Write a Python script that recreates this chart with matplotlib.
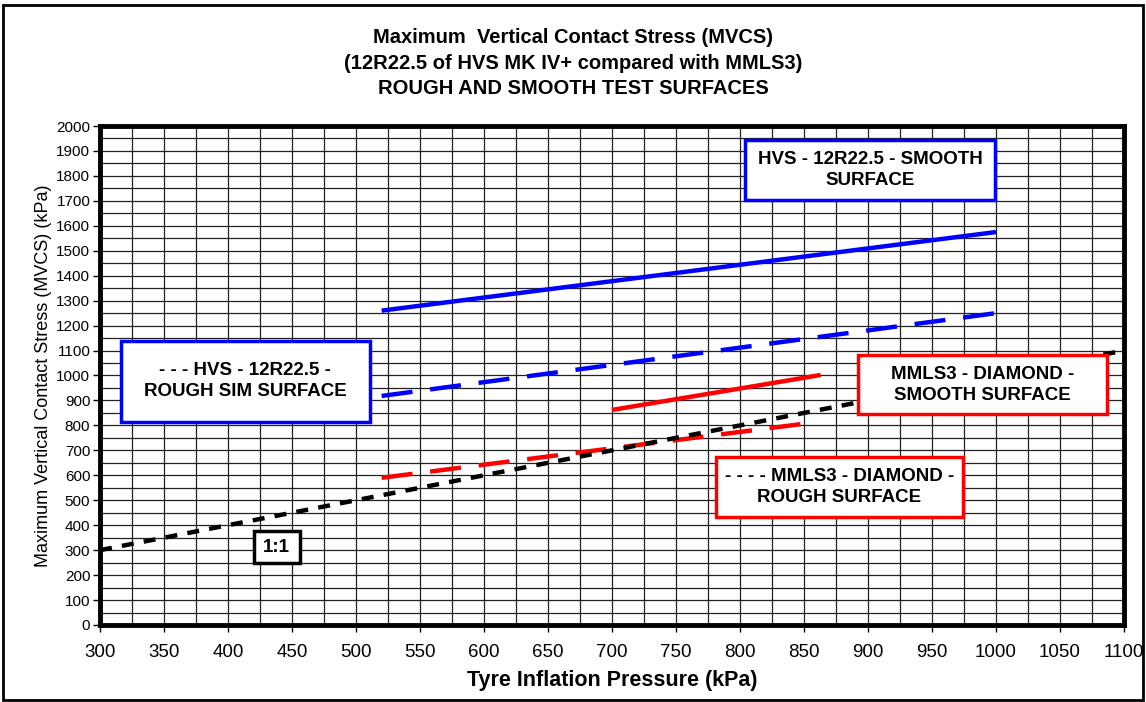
import numpy as np
import matplotlib.pyplot as plt
from matplotlib.patches import Rectangle

plt.rcParams['font.family'] = ['Liberation Sans', 'DejaVu Sans']

# Tyre inflation pressure (kPa) and MVCS (kPa) for each series
hvs_smooth_x = [520, 1000]
hvs_smooth_y = [1260, 1575]
hvs_rough_x = [520, 1000]
hvs_rough_y = [918, 1250]
mmls_smooth_x = [700, 863]
mmls_smooth_y = [862, 1002]
mmls_rough_x = [520, 855]
mmls_rough_y = [590, 810]
equal_x = [300, 1100]
equal_y = [300, 1100]

x_ticks = list(range(300, 1101, 50))
y_ticks = list(range(0, 2001, 100))

fig = plt.figure(figsize=(11.46, 7.02), dpi=100)
ax = fig.add_axes([0.0873, 0.1097, 0.8935, 0.7108])

# grid: every 25 kPa on x, every 50 kPa on y
for gx in np.arange(300, 1101, 25):
    ax.axvline(gx, color='#222222', lw=0.9, zorder=1)
for gy in np.arange(0, 2001, 50):
    ax.axhline(gy, color='#222222', lw=0.9, zorder=1)

ax.plot(hvs_smooth_x, hvs_smooth_y, color='#0000ff', lw=3.2, solid_capstyle='butt', zorder=3)
ax.plot(hvs_rough_x, hvs_rough_y, color='#0000ff', lw=3.2, dashes=(7, 4), zorder=3)
ax.plot(mmls_smooth_x, mmls_smooth_y, color='#ff0000', lw=3.2, solid_capstyle='butt', zorder=3)
ax.plot(mmls_rough_x, mmls_rough_y, color='#ff0000', lw=3.2, dashes=(7, 4), zorder=3)
ax.plot(equal_x, equal_y, color='black', lw=3.2, dashes=(2.7, 2.3), zorder=3)

ax.set_xlim(300, 1100)
ax.set_ylim(0, 2000)
ax.set_xticks(x_ticks)
ax.set_yticks(y_ticks)
ax.tick_params(axis='x', labelsize=13.5, length=5, width=1, pad=9)
ax.tick_params(axis='y', labelsize=11, length=5, width=1, pad=2)
for s in ax.spines.values():
    s.set_linewidth(3.5)

ax.set_xlabel('Tyre Inflation Pressure (kPa)', fontsize=15.5, fontweight='bold', labelpad=6)
ax.set_ylabel('Maximum Vertical Contact Stress (MVCS) (kPa)', fontsize=13, labelpad=3)

fig.text(0.5, 0.91, 'Maximum  Vertical Contact Stress (MVCS)\n(12R22.5 of HVS MK IV+ compared with MMLS3)\nROUGH AND SMOOTH TEST SURFACES',
         ha='center', va='center', fontsize=14.5, fontweight='bold', linespacing=1.45)


def label_box(x0, y0, x1, y1, text, color, lw=2.5):
    ax.add_patch(Rectangle((x0, y0), x1 - x0, y1 - y0, facecolor='white',
                           edgecolor=color, lw=lw, zorder=5))
    ax.text((x0 + x1) / 2, (y0 + y1) / 2, text, ha='center', va='center',
            fontsize=13.5, fontweight='bold', zorder=6, linespacing=1.3)


label_box(804, 1703, 999, 1944, 'HVS - 12R22.5 - SMOOTH\nSURFACE', '#0000ff')
label_box(316, 814, 511, 1140, '- - - HVS - 12R22.5 -\nROUGH SIM SURFACE', '#0000ff')
label_box(892, 845, 1087, 1082, 'MMLS3 - DIAMOND -\nSMOOTH SURFACE', '#ff0000')
label_box(781, 433, 974, 673, '- - - - MMLS3 - DIAMOND -\nROUGH SURFACE', '#ff0000')
label_box(420, 248, 456, 377, '1:1', 'black')

# outer frame of the chart area
fig.patches.append(Rectangle((0.003, 0.003), 0.994, 0.99, transform=fig.transFigure,
                             fill=False, edgecolor='black', lw=2))

fig.savefig('out.png', dpi=100)
